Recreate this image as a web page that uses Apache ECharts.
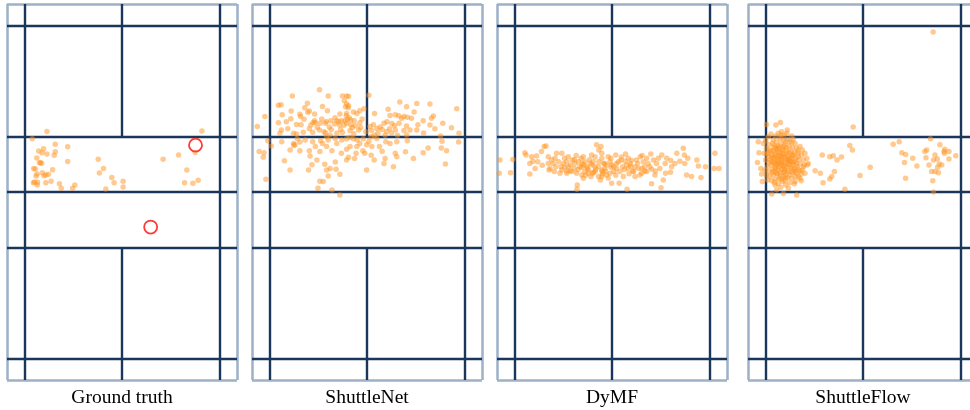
<!DOCTYPE html>
<html>
<head>
<meta charset="utf-8">
<script src="https://cdn.jsdelivr.net/npm/echarts@6/dist/echarts.min.js"></script>
<style>
html,body{margin:0;padding:0;background:#fff;}
#chart{width:970px;height:410px;}
</style>
</head>
<body>
<div id="chart"></div>
<script>
// ---- Court dimensions (metres) ----
const courtWidth = 6.1;
const courtLength = 13.4;
const singlesInset = 0.46;
const longServiceInset = 0.76;
const shortServiceFromNet = 1.98;

// ---- Panel names ----
const panelNames = ['Ground truth', 'ShuttleNet', 'DyMF', 'ShuttleFlow'];

// ---- Data: landing positions [x (m), y (m)] ----
const groundTruthPoints = [[1.06,4.54],[0.67,4.80],[5.17,4.53],[0.97,5.16],[0.84,5.24],[1.28,5.00],[1.61,5.09],[1.28,5.27],[1.06,5.35],[1.25,5.39],[0.93,5.30],[0.79,5.49],[0.86,5.66],[0.92,5.68],[1.61,5.61],[0.71,5.86],[0.75,5.88],[0.80,6.06],[0.94,6.01],[1.03,6.09],[1.10,6.07],[1.21,5.91],[0.98,6.12],[0.70,6.37],[0.73,6.34],[0.80,6.45],[0.81,6.35],[1.03,6.37],[1.17,6.32],[1.39,6.41],[1.44,6.57],[1.74,6.57],[1.80,6.45],[2.42,5.53],[2.56,5.86],[2.45,6.02],[2.78,6.18],[2.84,6.37],[3.08,6.32],[3.08,6.52],[2.62,6.59],[4.14,5.53],[4.55,5.38],[4.99,5.29],[4.77,5.92],[4.71,6.37],[4.93,6.39],[5.07,6.28],[0.77,6.13],[0.89,5.65]];

const groundTruthTargets = [[5.00,5.03],[3.81,7.95]];

const shuttleNetPoints = [[1.79,3.06],[1.07,3.28],[2.02,3.28],[2.40,3.28],[2.51,3.28],[2.56,3.30],[3.10,3.25],[0.70,3.61],[0.77,3.59],[1.47,3.54],[1.87,3.65],[2.51,3.56],[2.56,3.63],[2.48,3.66],[3.92,3.49],[4.37,3.55],[4.72,3.56],[4.10,3.66],[5.43,3.73],[1.04,3.81],[1.52,3.81],[1.27,3.93],[1.29,4.01],[1.48,3.86],[1.66,3.92],[2.69,3.85],[2.51,3.90],[2.78,3.90],[2.86,3.80],[2.97,3.73],[3.61,3.75],[3.66,3.97],[3.89,3.98],[3.97,4.07],[4.23,4.07],[4.03,4.01],[4.12,4.04],[4.81,3.99],[4.76,4.07],[0.34,4.01],[1.03,4.09],[1.38,4.11],[1.66,4.16],[1.68,4.23],[1.97,4.19],[2.09,4.16],[2.25,4.16],[2.37,4.16],[2.46,4.16],[2.53,4.11],[2.62,4.13],[2.71,4.16],[2.86,4.23],[1.18,4.29],[1.56,4.31],[1.81,4.25],[1.95,4.25],[2.19,4.28],[2.32,4.31],[2.51,4.25],[2.62,4.31],[2.74,4.34],[0.70,4.23],[0.91,4.20],[3.22,4.30],[3.50,4.25],[3.71,4.26],[3.78,4.34],[4.10,4.35],[4.54,4.16],[5.06,4.25],[5.29,4.41],[4.72,4.31],[4.37,4.49],[4.19,4.49],[4.03,4.51],[3.80,4.49],[3.57,4.54],[3.45,4.47],[3.31,4.44],[3.13,4.37],[3.17,4.51],[3.34,4.61],[2.83,4.49],[2.60,4.51],[2.35,4.47],[2.10,4.47],[1.91,4.55],[1.79,4.49],[1.61,4.57],[1.36,4.57],[1.18,4.63],[1.10,4.61],[0.78,4.49],[0.74,4.61],[0.14,4.37],[5.49,4.61],[3.53,4.68],[3.70,4.61],[3.86,4.68],[4.10,4.67],[4.12,4.87],[3.84,4.91],[3.66,4.97],[3.55,4.91],[3.31,4.79],[3.16,4.73],[2.95,4.80],[2.79,4.85],[2.69,4.80],[2.51,4.80],[2.38,4.85],[2.21,4.79],[2.02,4.85],[1.82,4.87],[1.61,4.91],[1.41,4.85],[1.27,4.92],[1.10,4.97],[1.14,5.02],[0.79,4.91],[0.42,4.87],[0.51,5.06],[0.32,5.30],[0.19,5.26],[0.30,5.46],[0.37,6.25],[0.86,5.59],[1.01,5.92],[1.52,5.23],[1.54,5.42],[1.68,5.08],[1.80,5.26],[1.98,5.08],[2.12,5.23],[2.25,4.97],[2.37,5.32],[2.51,5.18],[2.60,5.08],[2.76,5.32],[2.94,5.23],[2.99,5.32],[3.18,5.08],[3.38,5.08],[3.45,5.25],[3.53,5.51],[3.50,5.68],[3.80,5.32],[3.84,5.44],[4.07,5.27],[4.28,5.51],[4.54,5.30],[4.67,5.13],[5.02,5.13],[5.16,5.23],[5.48,4.92],[5.04,4.89],[5.13,5.70],[3.75,5.80],[3.24,5.56],[3.16,5.39],[3.04,5.92],[2.72,5.51],[2.56,5.46],[2.33,6.07],[2.23,5.89],[2.07,5.86],[1.98,5.92],[1.93,5.71],[1.72,5.56],[1.59,5.73],[1.50,5.92],[1.80,6.32],[1.89,6.33],[2.02,6.13],[1.75,6.57],[2.12,6.63],[2.33,6.81],[2.51,5.56],[2.21,5.63],[1.01,5.20],[1.27,5.23],[1.11,5.04],[2.25,4.61],[2.07,4.67],[1.98,4.73],[1.87,4.97],[3.04,5.02],[2.86,4.97],[2.78,5.08],[2.30,4.20],[2.44,4.32],[2.58,4.05],[2.66,4.40],[1.73,4.40],[1.62,4.22],[2.05,4.38],[2.88,4.40],[3.02,4.55],[3.40,4.38],[3.58,4.20],[2.92,4.10],[2.40,4.58],[1.95,4.60],[1.52,4.45],[1.30,4.30],[3.25,4.68],[3.65,4.45],[2.70,4.62],[2.20,4.05],[2.50,3.98],[2.33,3.92],[1.85,4.10],[3.90,4.25],[4.40,4.30],[4.55,4.60],[4.85,4.45],[5.00,4.70],[0.95,4.45],[1.20,4.80],[2.60,4.75],[3.10,4.90],[2.55,3.70],[2.45,3.45],[2.00,3.80],[4.30,3.85],[3.80,3.95],[3.25,3.90],[1.40,3.70],[0.80,3.95]];

const dymfPoints = [[0.08,5.56],[0.06,6.03],[0.36,6.01],[0.42,5.54],[0.74,5.30],[0.77,5.38],[0.92,5.44],[0.87,5.68],[0.87,6.06],[1.05,5.42],[1.08,5.62],[1.01,5.86],[1.25,5.08],[1.30,5.06],[1.18,5.26],[1.36,5.44],[1.36,5.68],[1.41,5.86],[1.38,5.92],[1.54,5.50],[1.49,5.68],[1.56,5.80],[1.52,5.97],[1.72,5.32],[1.79,5.50],[1.76,5.68],[1.72,5.92],[1.67,6.03],[1.85,5.62],[1.89,5.80],[1.94,5.94],[1.89,5.44],[2.07,5.68],[2.05,5.86],[2.11,6.03],[2.00,5.56],[2.23,5.50],[2.26,5.68],[2.20,5.80],[2.33,5.62],[2.38,5.80],[2.32,5.97],[2.25,6.09],[2.42,5.92],[2.51,5.38],[2.55,5.62],[2.60,5.80],[2.54,6.03],[2.64,5.02],[2.76,5.08],[2.70,5.20],[2.78,5.32],[2.78,5.50],[2.82,5.68],[2.86,5.86],[2.79,5.97],[2.95,5.44],[3.00,5.62],[3.02,5.82],[2.91,6.09],[2.78,6.15],[2.74,6.27],[3.04,6.39],[3.24,6.39],[3.10,5.97],[3.15,5.38],[3.17,5.68],[3.29,5.56],[3.33,5.80],[3.26,5.97],[3.35,6.15],[3.41,5.35],[3.48,5.50],[3.53,5.68],[3.48,5.86],[3.57,5.58],[3.62,5.97],[3.66,6.15],[3.73,5.68],[3.75,5.86],[3.80,5.44],[3.88,5.62],[3.91,5.80],[3.84,6.03],[3.97,5.50],[4.01,5.68],[4.08,5.35],[4.15,5.56],[4.10,5.89],[4.19,6.09],[4.23,5.68],[4.28,5.50],[4.32,5.86],[4.37,5.38],[4.46,5.68],[4.47,6.03],[4.41,6.27],[4.10,6.41],[4.35,6.55],[4.61,5.58],[4.63,5.80],[4.72,5.68],[4.77,5.32],[4.94,5.14],[4.97,5.38],[5.06,5.50],[4.98,5.68],[5.03,6.09],[5.16,6.15],[5.30,5.56],[5.34,5.77],[5.41,6.18],[5.53,5.80],[5.78,5.32],[5.76,5.86],[5.89,5.86],[3.45,6.60],[2.13,6.45],[2.12,6.60],[1.80,5.82],[2.49,6.15],[2.25,5.82],[1.98,5.97],[2.16,5.62],[2.47,5.68],[2.69,5.80],[3.04,5.74],[3.17,5.86],[3.84,5.86],[3.66,5.80],[3.44,5.74],[2.78,5.92],[2.42,6.03],[2.29,5.44],[1.85,6.03],[1.63,5.62],[1.58,5.32],[3.79,6.09],[3.97,5.97],[2.60,5.97],[2.86,5.68],[3.00,6.03],[2.29,6.21],[2.69,6.15],[2.30,5.74],[2.40,5.86],[2.52,5.74],[2.62,5.90],[2.70,5.62],[2.90,5.74],[3.10,5.80],[3.22,5.62],[3.38,5.90],[3.55,5.78],[3.70,5.56],[3.92,5.95],[2.15,5.90],[1.95,5.74],[2.05,5.55],[2.88,5.96],[3.02,5.50],[3.30,5.45],[2.60,5.45],[2.45,5.55],[3.60,5.95],[4.05,5.80],[4.20,5.95],[1.70,5.80],[1.45,5.55],[2.95,6.20],[3.50,6.05],[2.35,6.10],[4.50,5.50],[4.85,5.60],[2.10,5.40],[1.20,5.75],[0.95,5.60],[3.85,5.40],[4.60,6.00],[2.80,6.05],[3.15,6.10],[3.40,5.60],[2.55,6.00],[1.85,5.95]];

const shuttleFlowPoints = [[4.91,1.00],[0.49,4.29],[0.74,4.31],[0.86,4.22],[1.04,4.49],[2.79,4.38],[0.27,4.91],[0.29,5.30],[0.25,5.65],[0.36,6.06],[0.34,5.86],[0.38,6.33],[0.63,6.77],[0.94,6.75],[1.29,6.81],[1.23,6.41],[1.38,6.21],[1.41,6.30],[1.57,5.74],[1.78,5.94],[1.97,5.38],[1.92,6.03],[1.99,6.37],[2.17,5.44],[2.26,5.41],[2.36,5.56],[2.48,5.45],[2.29,5.97],[2.22,6.15],[2.17,6.24],[2.57,6.60],[2.70,5.04],[2.77,5.20],[2.97,6.11],[3.24,5.82],[3.85,5.00],[4.01,4.91],[4.08,5.30],[4.18,5.36],[4.15,5.65],[4.18,6.21],[4.37,5.50],[4.48,5.77],[4.74,5.20],[4.69,5.26],[4.84,4.80],[4.72,5.48],[4.80,5.74],[4.92,5.56],[4.87,5.97],[4.90,6.30],[4.92,6.70],[5.09,5.02],[5.20,5.26],[5.22,5.18],[5.02,5.52],[5.07,5.70],[4.96,5.97],[5.05,6.01],[5.03,5.82],[5.14,5.74],[5.33,5.52],[5.51,5.41],[5.33,5.26],[5.21,5.32],[4.96,5.38],[0.54,4.73],[0.61,4.63],[0.67,4.85],[0.73,4.70],[0.80,4.61],[0.89,4.55],[0.96,4.67],[1.03,4.61],[1.16,4.70],[1.20,4.82],[1.25,4.97],[1.11,4.91],[1.05,4.82],[0.94,4.85],[0.85,4.79],[0.76,4.91],[0.65,4.97],[0.56,5.02],[0.49,5.14],[0.58,5.20],[0.70,5.11],[0.79,5.06],[0.87,4.99],[0.98,5.02],[1.09,5.08],[1.18,5.11],[1.29,5.14],[1.38,5.08],[1.44,5.20],[1.51,5.32],[1.42,5.38],[1.33,5.32],[1.23,5.30],[1.14,5.26],[1.03,5.23],[0.91,5.20],[0.80,5.26],[0.72,5.30],[0.63,5.38],[0.54,5.44],[0.47,5.56],[0.58,5.56],[0.67,5.50],[0.76,5.46],[0.85,5.42],[0.96,5.44],[1.05,5.42],[1.16,5.46],[1.26,5.50],[1.35,5.54],[1.47,5.56],[1.56,5.50],[1.60,5.68],[1.49,5.74],[1.38,5.70],[1.29,5.68],[1.20,5.65],[1.09,5.62],[0.98,5.62],[0.89,5.58],[0.79,5.65],[0.70,5.68],[0.61,5.74],[0.52,5.80],[0.45,5.92],[0.56,5.97],[0.65,5.89],[0.73,5.86],[0.82,5.82],[0.94,5.77],[1.03,5.80],[1.14,5.82],[1.25,5.86],[1.33,5.89],[1.44,5.92],[1.51,6.03],[1.41,6.06],[1.29,6.03],[1.18,6.01],[1.07,5.99],[0.96,5.97],[0.85,6.01],[0.76,6.03],[0.67,6.09],[0.58,6.15],[0.52,6.27],[0.63,6.30],[0.73,6.25],[0.82,6.21],[0.94,6.15],[1.05,6.18],[1.16,6.21],[1.25,6.15],[0.91,6.33],[0.80,6.41],[0.72,6.45],[1.00,6.45],[1.11,6.37],[0.87,6.53],[0.76,6.63],[1.07,6.57],[0.43,5.32],[0.41,4.97],[0.47,4.87],[0.94,5.08],[1.03,5.32],[1.11,5.50],[0.89,5.68],[0.80,5.92],[0.98,6.09],[1.20,5.74],[0.72,5.38],[0.63,5.62],[1.11,6.09],[1.33,6.15],[0.49,6.09],[1.25,6.33],[0.87,5.50],[0.79,5.18],[0.96,5.89],[1.05,5.68],[0.70,5.97],[1.16,5.62],[1.32,5.23],[1.20,5.38],[0.54,5.30],[0.67,5.23],[0.85,6.13],[0.98,6.30],[0.76,5.74],[1.07,5.54],[0.91,5.32],[0.80,5.56],[1.33,5.44],[1.47,5.80],[1.25,5.97],[1.16,4.94],[1.00,4.91],[0.87,4.67],[0.75,5.15],[0.85,5.30],[0.95,5.35],[1.00,5.50],[0.90,5.45],[0.80,5.40],[0.70,5.50],[0.78,5.62],[0.88,5.75],[0.98,5.80],[1.08,5.72],[1.12,5.60],[1.05,5.55],[0.92,5.65],[0.82,5.70],[0.72,5.80],[0.68,5.65],[0.62,5.45],[0.60,5.25],[0.70,5.05],[0.82,5.10],[0.92,5.15],[1.02,5.12],[1.10,5.30],[1.18,5.40],[1.25,5.60],[1.15,5.85],[1.05,5.95],[0.90,5.90],[0.78,6.05],[0.65,6.00],[0.55,5.65],[0.50,5.35],[1.30,5.80],[1.38,5.95],[1.00,6.20],[0.88,6.25],[0.70,6.35],[1.20,5.95],[0.95,6.00]];

const panelPoints = [groundTruthPoints, shuttleNetPoints, dymfPoints, shuttleFlowPoints];

// ---- Court line segments built from dimensions ----
const netY = courtLength / 2;
const shortTop = netY - shortServiceFromNet;
const shortBottom = netY + shortServiceFromNet;
const midX = courtWidth / 2;
const innerSegments = [
  [[singlesInset, 0], [singlesInset, courtLength]],
  [[courtWidth - singlesInset, 0], [courtWidth - singlesInset, courtLength]],
  [[0, longServiceInset], [courtWidth, longServiceInset]],
  [[0, courtLength - longServiceInset], [courtWidth, courtLength - longServiceInset]],
  [[0, shortTop], [courtWidth, shortTop]],
  [[0, shortBottom], [courtWidth, shortBottom]],
  [[0, netY], [courtWidth, netY]],
  [[midX, 0], [midX, shortTop]],
  [[midX, shortBottom], [midX, courtLength]]
];
const outerSegments = [
  [[0, 0], [courtWidth, 0]],
  [[courtWidth, 0], [courtWidth, courtLength]],
  [[courtWidth, courtLength], [0, courtLength]],
  [[0, courtLength], [0, 0]]
];

const gridLefts = [7, 252, 497, 748];
const grids = [], xAxes = [], yAxes = [], series = [];
const dotColor = '#ff9320';

panelNames.forEach((name, i) => {
  grids.push({ left: gridLefts[i], top: 4, width: 230, height: 376, containLabel: false, outerBoundsMode: 'none' });
  xAxes.push({
    gridIndex: i, type: 'value', min: 0, max: courtWidth,
    name: name, nameLocation: 'middle', nameGap: 8,
    nameTextStyle: { fontFamily: 'Liberation Serif', fontSize: 19.5, color: '#000' },
    axisLine: { show: false }, axisTick: { show: false }, axisLabel: { show: false }, splitLine: { show: false }
  });
  yAxes.push({
    gridIndex: i, type: 'value', min: 0, max: courtLength, inverse: true,
    axisLine: { show: false }, axisTick: { show: false }, axisLabel: { show: false }, splitLine: { show: false }
  });
  series.push({
    type: 'lines', coordinateSystem: 'cartesian2d', xAxisIndex: i, yAxisIndex: i,
    silent: true, clip: false, z: 1,
    lineStyle: { color: '#9db1c7', width: 2.5, opacity: 1, curveness: 0 },
    data: outerSegments.map(c => ({ coords: c }))
  });
  series.push({
    type: 'lines', coordinateSystem: 'cartesian2d', xAxisIndex: i, yAxisIndex: i,
    silent: true, clip: false, z: 2,
    lineStyle: { color: '#1a365b', width: 2.4, opacity: 1, curveness: 0 },
    data: innerSegments.map(c => ({ coords: c }))
  });
  series.push({
    type: 'scatter', xAxisIndex: i, yAxisIndex: i, z: 3, clip: false,
    symbolSize: 5.5, silent: true,
    itemStyle: { color: dotColor, opacity: 0.5 },
    data: panelPoints[i]
  });
});

series.push({
  type: 'scatter', xAxisIndex: 0, yAxisIndex: 0, z: 4, silent: true,
  symbol: 'circle', symbolSize: 13,
  itemStyle: { color: 'rgba(0,0,0,0)', borderColor: '#ff3a3a', borderWidth: 1.8, opacity: 1 },
  data: groundTruthTargets
});

const chart = echarts.init(document.getElementById('chart'), null, { renderer: 'canvas' });
chart.setOption({
  animation: false,
  backgroundColor: '#ffffff',
  grid: grids,
  xAxis: xAxes,
  yAxis: yAxes,
  series: series
});
</script>
</body>
</html>
